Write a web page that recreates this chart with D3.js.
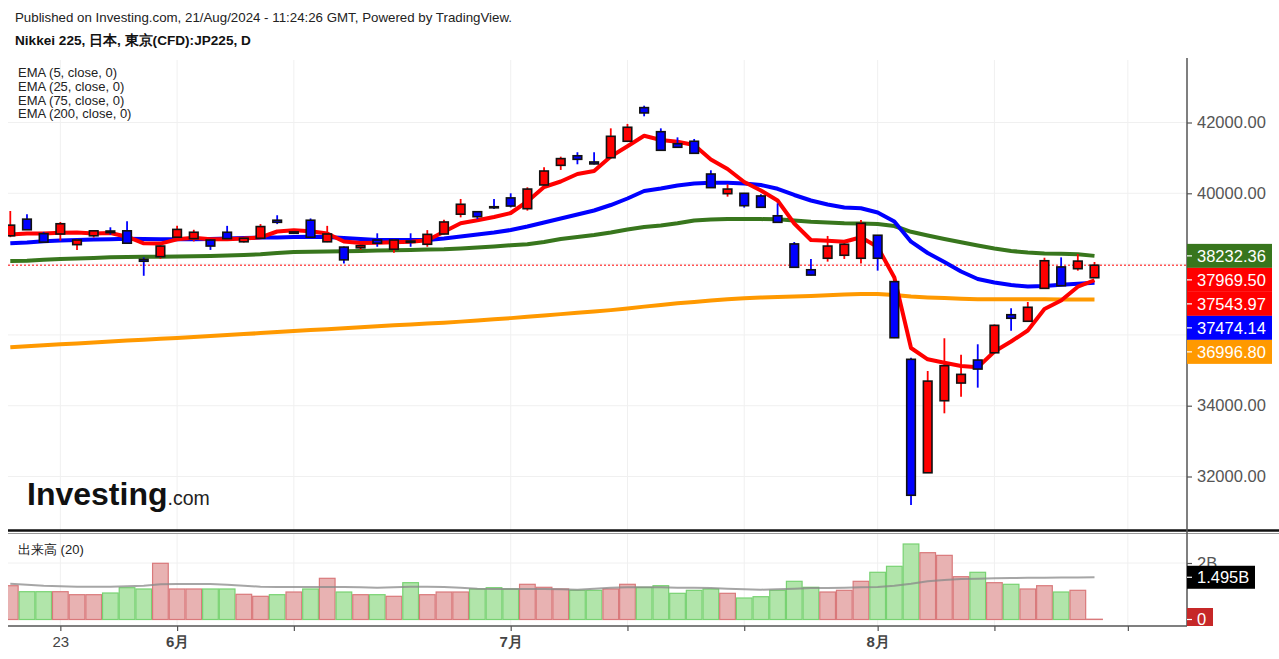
<!DOCTYPE html>
<html lang="ja">
<head>
  <meta charset="UTF-8">
  <title>Nikkei 225</title>
  <script src="https://d3js.org/d3.v7.min.js"></script>
  <style>
    html, body { margin: 0; padding: 0; background: #fff; }
    svg { display: block; font-family: 'Liberation Sans', Arial, sans-serif; }
  </style>
</head>
<body>
  <div id="chart"></div>
  <script>
    // daily bars, 2024-05-20 .. 2024-08-21 (index 0..65)
    var opens  = [38800,39270,38860,38850,38550,38800,38935,38940,38135,38210,
                  38760,38720,38680,38900,38630,38730,39240,38910,39240,38630,
                  38480,38460,38680,38420,38650,38560,38850,39410,39480,39620,
                  39870,39565,40235,40790,41060,40885,41005,41470,42420,41740,
                  41400,41470,40545,39990,40000,39925,39365,38570,37840,38165,
                  38250,38165,38815,37505,35310,32105,34140,34640,35290,35495,
                  36570,36385,37315,37920,37870,37615];
    var highs  = [39500,39410,38910,39190,38710,38960,39040,39210,38190,38525,
                  39080,38970,38700,39080,38750,39130,39380,38935,39290,39080,
                  38500,38540,38870,38700,38870,38960,39250,39840,39500,39840,
                  40000,40170,40735,41035,41160,41160,41835,41960,42475,41835,
                  41580,41535,40650,40255,40010,39970,39715,38625,38145,38795,
                  38595,39245,38820,37510,35355,34980,35905,35440,35735,36295,
                  36750,36930,38180,38190,38285,38060];
    var lows   = [38760,38960,38610,38660,38400,38750,38830,38580,37670,38150,
                  38740,38640,38400,38710,38610,38710,39130,38850,38750,38620,
                  38020,38400,38490,38320,38490,38490,38835,39320,39270,39560,
                  39600,39510,40220,40660,40820,40815,40995,41460,42175,41210,
                  41295,41125,40150,39905,39595,39600,39175,37905,37685,38070,
                  38145,38020,37815,35910,31195,32100,33785,34255,34510,35490,
                  36120,36380,37310,37380,37815,37610];
    var closes = [39100,38970,38620,39140,38680,38940,38890,38590,38080,38510,
                  38980,38900,38510,38720,38730,39060,39180,38870,38760,38850,
                  38120,38520,38590,38680,38615,38840,39190,39690,39340,39590,
                  39640,40120,40630,40980,40960,40830,41610,41865,42270,41215,
                  41300,41130,40160,40120,39650,39605,39180,37910,37690,38510,
                  38560,39150,38165,35920,31470,34695,35130,34885,35035,36270,
                  36470,36780,38095,37390,38085,37969.5];

    var ema5   = [38833,38864,38861,38884,38892,38867,38878,38774,38587,38579,
                  38700,38743,38700,38700,38720,38757,38921,38955,38929,38864,
                  38638,38596,38602,38616,38633,38675,38915,39155,39237,39330,
                  39443,39768,40178,40333,40545,40630,41039,41328,41624,41506,
                  41458,41364,40955,40686,40319,40079,39796,39147,38681,38661,
                  38633,38757,38483,37621,35630,35310,35214,35121,35084,35531,
                  35813,36124,36731,36971,37361,37543.97];
    var ema25  = [38587,38610,38647,38669,38681,38692,38703,38715,38709,38703,
                  38700,38700,38709,38720,38737,38748,38751,38765,38771,38765,
                  38740,38709,38681,38681,38681,38681,38723,38779,38836,38892,
                  38963,39062,39175,39288,39401,39514,39669,39853,40065,40135,
                  40220,40277,40299,40299,40277,40234,40127,39952,39796,39683,
                  39599,39576,39457,39203,38633,38313,38059,37791,37579,37480,
                  37409,37367,37381,37415,37443,37474.14];
    var ema75  = [38087,38093,38124,38144,38158,38172,38192,38203,38209,38209,
                  38214,38223,38231,38243,38257,38277,38313,38342,38350,38356,
                  38361,38370,38381,38390,38398,38409,38418,38440,38469,38497,
                  38534,38562,38624,38709,38765,38822,38892,38977,39048,39090,
                  39152,39232,39260,39274,39274,39271,39265,39232,39195,39175,
                  39152,39147,39133,39076,38912,38808,38709,38616,38525,38440,
                  38370,38327,38299,38291,38279,38232.36];
    var ema200 = [35652,35680,35709,35734,35760,35788,35816,35839,35864,35890,
                  35915,35940,35966,35994,36022,36051,36079,36107,36135,36161,
                  36189,36214,36243,36271,36296,36319,36344,36375,36406,36440,
                  36474,36514,36548,36587,36624,36661,36700,36748,36799,36847,
                  36895,36932,36969,37008,37037,37054,37068,37082,37101,37121,
                  37141,37155,37155,37130,37084,37059,37039,37019,37005,37010,
                  37008,37006,37004,37001,36999,36996.8];

    // volume in billions, 1 = green bar, 0 = red bar
    var volume = [1.196,0.984,0.984,0.984,0.878,0.878,0.938,1.126,1.080,1.989,
                  1.080,1.080,1.080,1.080,0.892,0.821,0.878,0.973,1.080,1.458,
                  0.973,0.878,0.878,0.821,1.303,0.878,0.973,0.973,1.080,1.126,
                  1.080,1.246,1.140,1.080,1.033,1.033,1.080,1.246,1.140,1.196,
                  0.927,1.033,1.080,0.927,0.761,0.807,1.033,1.352,1.140,0.973,
                  1.033,1.352,1.671,1.883,2.673,2.365,2.271,1.515,1.671,1.303,
                  1.246,1.080,1.196,0.973,1.033,0.01];
    var volUp  = [0,1,1,0,0,0,1,1,1,0, 0,0,1,1,0,0,1,0,1,0,
                  1,0,1,0,1,0,0,0,1,1, 1,0,0,0,1,1,0,0,1,1,
                  1,1,1,0,1,1,1,1,1,0, 0,0,1,1,1,0,0,0,1,0,
                  1,0,0,1,0,0];
    var volMa  = [1.267,1.232,1.196,1.175,1.161,1.161,1.161,1.175,1.196,1.246,
                  1.257,1.257,1.257,1.232,1.196,1.161,1.150,1.150,1.150,1.150,
                  1.150,1.140,1.126,1.140,1.161,1.161,1.150,1.126,1.090,1.080,
                  1.080,1.080,1.080,1.069,1.055,1.090,1.126,1.140,1.140,1.140,
                  1.126,1.126,1.115,1.090,1.069,1.055,1.069,1.090,1.115,1.115,
                  1.126,1.140,1.150,1.196,1.267,1.352,1.398,1.434,1.444,1.460,
                  1.470,1.475,1.480,1.485,1.490,1.495];

    var tickIdx  = [3, 10, 17, 30, 37, 44, 52, 59, 67];
    var tickText = ["23", "6月", "", "7月", "", "", "8月", "", ""];
    var priceTicks = [32000, 34000, 36000, 38000, 40000, 42000];
    var volTicks = [0, 2];
    var lastPrice = 37969.5;
    var legendText = ["EMA (5, close, 0)", "EMA (25, close, 0)", "EMA (75, close, 0)", "EMA (200, close, 0)"];

    var width = 1279, height = 659,
        left = 8, right = 1187,
        mainTop = 58, mainBottom = 530,
        volTop = 534, volBottom = 626,
        upColor = "#ff0000", downColor = "#0000ff",
        green = "#38761d", orange = "#ff9900";

    var x  = d3.scaleLinear().domain([0, 65]).range([10.3, 1094.5]);
    var y  = d3.scaleLinear().domain([32000, 42000]).range([476.5, 122.5]);
    var yv = d3.scaleLinear().domain([0, 2]).range([619.5, 563]);
    var bw = x(1) - x(0);
    var vLast = volMa[volMa.length - 1];

    var svg = d3.select("#chart").append("svg")
      .attr("width", width)
      .attr("height", height);

    var defs = svg.append("defs");
    defs.append("clipPath").attr("id", "clipMain").append("rect")
      .attr("x", left).attr("y", mainTop).attr("width", right - left).attr("height", mainBottom - mainTop);
    defs.append("clipPath").attr("id", "clipVol").append("rect")
      .attr("x", left).attr("y", volTop).attr("width", right - left).attr("height", volBottom - volTop);

    // header
    svg.append("text").attr("x", 15).attr("y", 22)
      .attr("font-size", "13.3px").attr("fill", "#222")
      .text("Published on Investing.com, 21/Aug/2024 - 11:24:26 GMT, Powered by TradingView.");
    svg.append("text").attr("x", 15).attr("y", 45)
      .attr("font-size", "13.6px").attr("font-weight", "bold").attr("fill", "#111")
      .text("Nikkei 225, 日本, 東京(CFD):JP225, D");

    // grid
    var grid = svg.append("g").attr("stroke", "#f0f0f0").attr("stroke-width", 1);
    tickIdx.forEach(function(d) {
      grid.append("line").attr("x1", x(d)).attr("x2", x(d)).attr("y1", 60).attr("y2", mainBottom);
      grid.append("line").attr("x1", x(d)).attr("x2", x(d)).attr("y1", volTop).attr("y2", volBottom);
    });
    priceTicks.forEach(function(d) {
      grid.append("line").attr("x1", left).attr("x2", right).attr("y1", y(d)).attr("y2", y(d));
    });
    grid.append("line").attr("x1", left).attr("x2", right).attr("y1", yv(2)).attr("y2", yv(2));

    // main pane
    var main = svg.append("g").attr("clip-path", "url(#clipMain)");

    main.append("line")
      .attr("x1", left).attr("x2", right)
      .attr("y1", y(lastPrice)).attr("y2", y(lastPrice))
      .attr("stroke", "#ff0000").attr("stroke-width", 1).attr("stroke-dasharray", "2,2");

    var line = d3.line().x(function(d, i) { return x(i); }).y(function(d) { return y(d); });
    [[ema200, orange], [ema75, green], [ema25, downColor], [ema5, upColor]].forEach(function(s) {
      main.append("path").datum(s[0])
        .attr("d", line)
        .attr("fill", "none")
        .attr("stroke", s[1])
        .attr("stroke-width", 4)
        .attr("stroke-linejoin", "round");
    });

    var bars = d3.range(opens.length).map(function(i) {
      return { i: i, o: opens[i], h: highs[i], l: lows[i], c: closes[i] };
    });
    var candle = main.selectAll(".candle").data(bars).enter().append("g").attr("class", "candle");
    candle.append("line")
      .attr("x1", function(d) { return x(d.i); }).attr("x2", function(d) { return x(d.i); })
      .attr("y1", function(d) { return y(d.h); }).attr("y2", function(d) { return y(d.l); })
      .attr("stroke", function(d) { return d.c >= d.o ? upColor : downColor; })
      .attr("stroke-width", 1.8);
    candle.append("rect")
      .attr("x", function(d) { return x(d.i) - 4.3; })
      .attr("width", 8.6)
      .attr("y", function(d) { return y(Math.max(d.o, d.c)); })
      .attr("height", function(d) { return Math.max(1, Math.abs(y(d.o) - y(d.c))); })
      .attr("fill", function(d) { return d.c >= d.o ? upColor : downColor; })
      .attr("stroke", "#111")
      .attr("stroke-width", 1.6);

    // legend
    svg.append("g").selectAll("text").data(legendText).enter().append("text")
      .attr("x", 18).attr("y", function(d, i) { return 77 + i * 13.8; })
      .attr("font-size", "13px").attr("fill", "#222")
      .text(function(d) { return d; });

    // logo
    var logo = svg.append("text").attr("x", 27).attr("y", 505).attr("fill", "#111");
    logo.append("tspan").attr("font-size", "32px").attr("font-weight", "bold").text("Investing");
    logo.append("tspan").attr("font-size", "19.5px").attr("fill", "#222").text(".com");

    // separator
    svg.append("line").attr("x1", left).attr("x2", width).attr("y1", 530.5).attr("y2", 530.5)
      .attr("stroke", "#111").attr("stroke-width", 2.5);
    svg.append("line").attr("x1", left).attr("x2", width).attr("y1", 533.5).attr("y2", 533.5)
      .attr("stroke", "#999").attr("stroke-width", 1);

    // volume pane
    var vol = svg.append("g").attr("clip-path", "url(#clipVol)");
    vol.selectAll(".vbar").data(volume).enter().append("rect")
      .attr("class", "vbar")
      .attr("x", function(d, i) { return x(i) - bw / 2 + 0.5; })
      .attr("width", bw - 1)
      .attr("y", function(d) { return yv(d); })
      .attr("height", function(d) { return yv(0) - yv(d); })
      .attr("fill", function(d, i) { return volUp[i] ? "#b1e5aa" : "#e8b2b2"; })
      .attr("stroke", function(d, i) { return volUp[i] ? "#78d272" : "#d9797b"; })
      .attr("stroke-width", 1.2);
    vol.append("path").datum(volMa)
      .attr("d", d3.line().x(function(d, i) { return x(i); }).y(function(d) { return yv(d); }))
      .attr("fill", "none").attr("stroke", "#888").attr("stroke-opacity", 0.75).attr("stroke-width", 2);

    svg.append("text").attr("x", 18).attr("y", 554)
      .attr("font-size", "13px").attr("fill", "#222").text("出来高 (20)");

    // last value labels on price axis (stacked so they do not overlap)
    var tags = [
      { v: ema75[ema75.length - 1], c: green },
      { v: lastPrice, c: upColor },
      { v: ema5[ema5.length - 1], c: upColor },
      { v: ema25[ema25.length - 1], c: downColor },
      { v: ema200[ema200.length - 1], c: orange }
    ].sort(function(a, b) { return b.v - a.v; });
    var tagH = 24, prevBottom = -1e9;
    tags.forEach(function(t) {
      var top = Math.max(y(t.v) - tagH / 2, prevBottom);
      t.top = top;
      prevBottom = top + tagH;
    });
    var hidden = function(py) {
      return tags.some(function(t) { return py > t.top - 8 && py < t.top + tagH + 8; });
    };

    // axes
    var yAxis = svg.append("g").attr("transform", "translate(" + right + ",0)")
      .call(d3.axisRight(y).tickValues(priceTicks)
        .tickFormat(function(d) { return hidden(y(d)) ? "" : d3.format(".2f")(d); })
        .tickSize(5).tickPadding(5));
    var vAxis = svg.append("g").attr("transform", "translate(" + right + ",0)")
      .call(d3.axisRight(yv).tickValues(volTicks)
        .tickFormat(function(d) { return d === 0 ? "" : d + "B"; })
        .tickSize(5).tickPadding(5));
    var xAxis = svg.append("g").attr("transform", "translate(0," + volBottom + ")")
      .call(d3.axisBottom(x).tickValues(tickIdx).tickFormat(function(d, i) { return tickText[i]; }).tickSize(5).tickPadding(5));
    [yAxis, vAxis, xAxis].forEach(function(a) {
      a.select(".domain").remove();
      a.selectAll("line").attr("stroke", "#555").attr("stroke-width", 1.2);
      a.selectAll("text").attr("fill", "#555").attr("font-size", "16.5px")
        .attr("font-family", "'Liberation Sans', Arial, sans-serif");
    });
    xAxis.selectAll("text").attr("font-size", "15px").attr("fill", "#444")
      .attr("font-weight", function(d, i) { return tickText[i].indexOf("月") >= 0 ? "bold" : "normal"; });

    svg.append("line").attr("x1", right).attr("x2", right).attr("y1", mainTop).attr("y2", volBottom)
      .attr("stroke", "#555").attr("stroke-width", 1.5);
    svg.append("line").attr("x1", left).attr("x2", right).attr("y1", volBottom).attr("y2", volBottom)
      .attr("stroke", "#555").attr("stroke-width", 1.5);

    var tag = svg.append("g").selectAll("g").data(tags).enter().append("g");
    tag.append("rect")
      .attr("x", right).attr("y", function(d) { return d.top; })
      .attr("width", 85).attr("height", tagH)
      .attr("fill", function(d) { return d.c; });
    tag.append("line")
      .attr("x1", right).attr("x2", right + 5)
      .attr("y1", function(d) { return d.top + tagH / 2; }).attr("y2", function(d) { return d.top + tagH / 2; })
      .attr("stroke", "#fff").attr("stroke-width", 1.2);
    tag.append("text")
      .attr("x", right + 10).attr("y", function(d) { return d.top + tagH / 2; })
      .attr("dy", "0.36em").attr("font-size", "16.5px").attr("fill", "#fff")
      .text(function(d) { return d3.format(".2f")(d.v); });

    // volume labels (the 1.495B tag covers most of the 2B label, as in the original)
    svg.append("rect").attr("x", right).attr("y", yv(vLast) - 11.5).attr("width", 68).attr("height", 23).attr("fill", "#000");
    svg.append("line").attr("x1", right).attr("x2", right + 5).attr("y1", yv(vLast)).attr("y2", yv(vLast))
      .attr("stroke", "#fff").attr("stroke-width", 1.2);
    svg.append("text").attr("x", right + 10).attr("y", yv(vLast)).attr("dy", "0.36em")
      .attr("font-size", "16.5px").attr("fill", "#fff").text(d3.format(".3f")(vLast) + "B");
    var zeroG = svg.append("g");
    zeroG.append("rect").attr("x", right).attr("y", yv(0) - 11.5).attr("width", 26).attr("height", volBottom - (yv(0) - 11.5)).attr("fill", "#c62828");
    zeroG.append("text").attr("x", right + 10).attr("y", yv(0)).attr("dy", "0.36em")
      .attr("font-size", "16.5px").attr("fill", "#fff").text("0");
    zeroG.append("line").attr("x1", right).attr("x2", right + 5).attr("y1", yv(0)).attr("y2", yv(0))
      .attr("stroke", "#fff").attr("stroke-width", 1.2);
  </script>
</body>
</html>
